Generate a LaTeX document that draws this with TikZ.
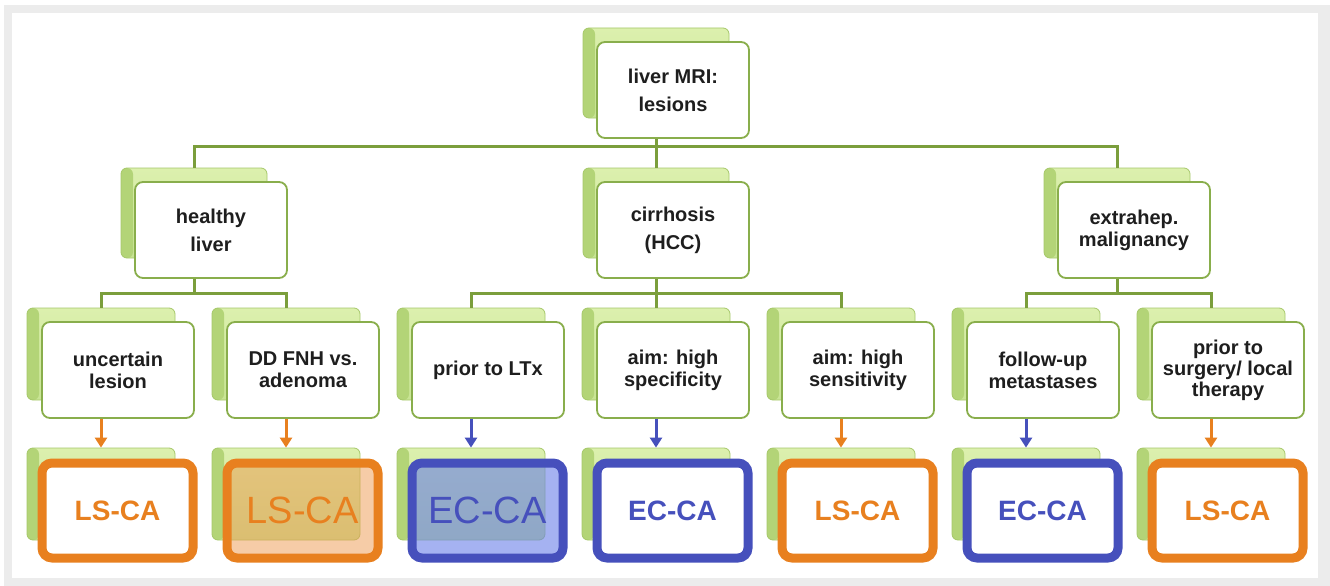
\documentclass[tikz,border=0pt]{standalone}
\usepackage{fontspec}
\setmainfont{Liberation Sans}
\usetikzlibrary{arrows.meta}
\definecolor{connc}{HTML}{7B9E3C}
\definecolor{backtop}{HTML}{DCF0AE}
\definecolor{backbot}{HTML}{C8E494}
\definecolor{backside}{HTML}{B3D477}
\definecolor{backdraw}{HTML}{A6C86A}
\definecolor{frontdraw}{HTML}{89AE4C}
\definecolor{textc}{HTML}{1E1E1E}
\definecolor{orangec}{HTML}{E8801F}
\definecolor{bluec}{HTML}{4650BC}
\definecolor{orangehl}{HTML}{EE9A50}
\definecolor{bluehl}{HTML}{6A80E8}
\definecolor{framegray}{HTML}{ECECEC}
\begin{document}
\begin{tikzpicture}[x=1pt,y=-1pt,
  backbox/.style={draw=backdraw, line width=0.8, rounded corners=6, inner sep=0,
    minimum width=148, minimum height=92, top color=backtop, bottom color=backbot,
    path picture={\fill[backside] (path picture bounding box.north west) rectangle ([xshift=12pt]path picture bounding box.south west);}},
  backtwo/.style={backbox, minimum width=146, minimum height=90},
  frontbox/.style={draw=frontdraw, line width=1.8, rounded corners=8, fill=white, inner sep=0,
    minimum width=152, minimum height=96, align=center, text=textc,
    font=\bfseries\fontsize{20}{22}\selectfont},
  wide/.style={font=\bfseries\fontsize{20}{28}\selectfont},
  tight/.style={font=\bfseries\fontsize{20}{21}\selectfont},
  finalbox/.style={line width=9, rounded corners=10, fill=white, inner sep=0,
    minimum width=151, minimum height=95, font=\bfseries\fontsize{28}{30}\selectfont},
  lsbox/.style={finalbox, draw=orangec, text=orangec},
  ecbox/.style={finalbox, draw=bluec, text=bluec},
  lshl/.style={lsbox, fill=orangehl, fill opacity=0.5, text opacity=1, font=\fontsize{38}{40}\selectfont},
  echl/.style={ecbox, fill=bluehl, fill opacity=0.6, text opacity=1, font=\fontsize{38}{40}\selectfont},
  conn/.style={draw=connc, line width=3},
  arrO/.style={draw=orangec, line width=3, -{Triangle[width=12pt,length=10pt]}},
  arrB/.style={draw=bluec, line width=3, -{Triangle[width=12pt,length=10pt]}}
]
% frame
\fill[white] (0,0) rectangle (1330,586);
\fill[framegray] (4,5) rectangle (1330,586);
\fill[white] (12,13) rectangle (1318,578);

% back boxes
\node[backtwo] (b1) at (656,73) {};
\node[backtwo] (b2a) at (194,213) {};
\node[backtwo] (b2b) at (656,213) {};
\node[backtwo] (b2c) at (1117,213) {};
\foreach \n/\F in {a/42,b/227,c/412,d/597,e/782,f/967,g/1152}{
  \node[backbox] (b3\n) at (\F+59,354) {};
  \node[backbox] (b4\n) at (\F+59,494) {};
}

% front boxes
\node[frontbox,wide] (f1) at (673,90) {liver MRI:\\lesions};
\node[frontbox,wide] (f2a) at (211,230) {healthy\\liver};
\node[frontbox,wide] (f2b) at (673,230) {cirrhosis\\(HCC)};
\node[frontbox] (f2c) at (1134,230) {extrahep.\\malignancy};

\node[frontbox] (f3a) at (118,370) {uncertain\\lesion};
\node[frontbox] (f3b) at (303,370) {DD FNH vs.\\adenoma};
\node[frontbox] (f3c) at (488,370) {prior to LTx};
\node[frontbox] (f3d) at (673,370) {aim: high\\specificity};
\node[frontbox] (f3e) at (858,370) {aim: high\\sensitivity};
\node[frontbox] (f3f) at (1043,370) {follow-up\\metastases};
\node[frontbox,tight] (f3g) at (1228,370) {prior to\\surgery/ local\\therapy};

% final boxes
\node[lsbox] (f4a) at (117.5,510.5) {LS-CA};
\node[lshl]  (f4b) at (302.5,510.5) {LS-CA};
\node[echl]  (f4c) at (487.5,510.5) {EC-CA};
\node[ecbox] (f4d) at (672.5,510.5) {EC-CA};
\node[lsbox] (f4e) at (857.5,510.5) {LS-CA};
\node[ecbox] (f4f) at (1042.5,510.5) {EC-CA};
\node[lsbox] (f4g) at (1227.5,510.5) {LS-CA};

% connectors level 1 -> 2
\coordinate (j1) at (656,146);
\draw[conn] (f1.south -| b1.north) -- (j1);
\draw[conn] (b2a.north) |- (j1) -| (b2c.north);
\draw[conn] (j1) -- (b2b.north);

% connectors level 2 -> 3
\coordinate (j2a) at (194,293);
\coordinate (j2b) at (656,293);
\coordinate (j2c) at (1117,293);
\draw[conn] (f2a.south -| b2a.north) -- (j2a);
\draw[conn] (b3a.north) |- (j2a) -| (b3b.north);
\draw[conn] (f2b.south -| b2b.north) -- (j2b);
\draw[conn] (b3c.north) |- (j2b) -| (b3e.north);
\draw[conn] (j2b) -- (b3d.north);
\draw[conn] (f2c.south -| b2c.north) -- (j2c);
\draw[conn] (b3f.north) |- (j2c) -| (b3g.north);

% arrows level 3 -> 4
\draw[arrO] (f3a.south -| b3a.north) -- (b4a.north);
\draw[arrO] (f3b.south -| b3b.north) -- (b4b.north);
\draw[arrB] (f3c.south -| b3c.north) -- (b4c.north);
\draw[arrB] (f3d.south -| b3d.north) -- (b4d.north);
\draw[arrO] (f3e.south -| b3e.north) -- (b4e.north);
\draw[arrB] (f3f.south -| b3f.north) -- (b4f.north);
\draw[arrO] (f3g.south -| b3g.north) -- (b4g.north);
\end{tikzpicture}
\end{document}
